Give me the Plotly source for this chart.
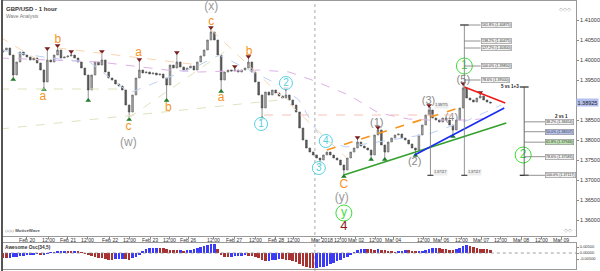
import plotly.graph_objects as go

# ---------------- data ----------------
# GBP/USD hourly chart, sampled every 2 hours; x unit = trading hours since Feb 20 00:00
first_bar_hour = -14
bar_step_hours = 2
first_open = 1.40200
close = [
    1.40250, 1.40300, 1.40125, 1.39625, 1.39950, 1.40200, 1.40125, 1.40075, 1.40000, 1.40050,
    1.39925, 1.39750, 1.39450, 1.40000, 1.39950, 1.40125, 1.40250, 1.40050, 1.40075, 1.40100,
    1.40125, 1.40050, 1.39950, 1.39800, 1.39625, 1.39250, 1.39625, 1.39950, 1.39875, 1.40000,
    1.39700, 1.39550, 1.39500, 1.39400, 1.39350, 1.39250, 1.38875, 1.38700, 1.39125, 1.39550,
    1.39750, 1.39675, 1.39700, 1.39650, 1.39675, 1.39625, 1.39650, 1.39550, 1.39375, 1.39875,
    1.39800, 1.39950, 1.39825, 1.39750, 1.39800, 1.39850, 1.39750, 1.39950, 1.40100, 1.40250,
    1.40500, 1.40700, 1.40500, 1.40125, 1.39500, 1.39700, 1.39750, 1.39725, 1.39750, 1.39700,
    1.39750, 1.39800, 1.39950, 1.39700, 1.39450, 1.39125, 1.38800, 1.39200, 1.39125, 1.39250,
    1.39175, 1.39100, 1.39050, 1.39125, 1.39000, 1.38875, 1.38700, 1.38300, 1.38000, 1.37800,
    1.37700, 1.37625, 1.37550, 1.37500, 1.37625, 1.37700, 1.37625, 1.37550, 1.37500, 1.37375,
    1.37250, 1.37550, 1.37700, 1.37800, 1.37950, 1.37850, 1.37800, 1.37750, 1.37625, 1.38125,
    1.38250, 1.37875, 1.37700, 1.37950, 1.38050, 1.38125, 1.38150, 1.38050, 1.38000, 1.37900,
    1.37800, 1.37750, 1.38125, 1.38375, 1.38625, 1.38750, 1.38550, 1.38500, 1.38450, 1.38550,
    1.38500, 1.38375, 1.38250, 1.38500, 1.38800, 1.39300, 1.39050, 1.39000, 1.38950, 1.39050,
    1.39100, 1.39000, 1.38950, 1.38925,
]
# swing highs / lows (bar index, extreme price)
hi_idx = [13, 16, 20, 29, 40, 51, 61, 68, 72, 83, 104, 110, 125, 135, 140]
hi_px = [1.40250, 1.40325, 1.40175, 1.40175, 1.39975, 1.40150, 1.40775, 1.39800, 1.40050,
         1.39250, 1.38025, 1.38275, 1.38825, 1.39375, 1.39150]
lo_idx = [3, 12, 25, 37, 48, 64, 76, 93, 100, 108, 112, 121, 132]
lo_px = [1.39550, 1.39300, 1.39025, 1.38550, 1.39025, 1.39250, 1.38575, 1.37425, 1.37125,
         1.37550, 1.37550, 1.37650, 1.38125]

# Awesome Oscillator (34,5), same 2-hour sampling
ao = [
    -0.0040, -0.0042, -0.0038, -0.0035, -0.0030, -0.0028, -0.0025, -0.0020, -0.0015, -0.0010,
    -0.0008, -0.0012, -0.0009, -0.0005, 0.0002, 0.0008, 0.0012, 0.0015, 0.0016, 0.0014,
    0.0013, 0.0015, 0.0012, 0.0006, -0.0002, -0.0012, -0.0022, -0.0030, -0.0038, -0.0045,
    -0.0050, -0.0055, -0.0056, -0.0052, -0.0050, -0.0048, -0.0052, -0.0055, -0.0045, -0.0030,
    -0.0010, 0.0015, 0.0030, 0.0038, 0.0042, 0.0044, 0.0040, 0.0038, 0.0032, 0.0028,
    0.0025, 0.0022, 0.0024, 0.0020, 0.0022, 0.0028, 0.0034, 0.0040, 0.0048, 0.0056,
    0.0064, 0.0072, 0.0076, 0.0035, -0.0010, -0.0030, -0.0035, -0.0030, -0.0028, -0.0025,
    -0.0022, -0.0020, -0.0024, -0.0026, -0.0030, -0.0040, -0.0060, -0.0070, -0.0068, -0.0060,
    -0.0055, -0.0050, -0.0052, -0.0055, -0.0060, -0.0068, -0.0078, -0.0090, -0.0105, -0.0115,
    -0.0122, -0.0125, -0.0124, -0.0120, -0.0115, -0.0105, -0.0095, -0.0080, -0.0068, -0.0055,
    -0.0045, -0.0030, -0.0012, 0.0008, 0.0022, 0.0030, 0.0033, 0.0032, 0.0030, 0.0028,
    0.0032, 0.0028, 0.0022, 0.0018, 0.0010, 0.0005, 0.0012, 0.0020, 0.0025, 0.0022,
    0.0015, 0.0010, 0.0014, 0.0020, 0.0028, 0.0035, 0.0040, 0.0042, 0.0038, 0.0033,
    0.0030, 0.0028, 0.0022, 0.0030, 0.0045, 0.0060, 0.0068, 0.0062, 0.0050, 0.0042,
    0.0036, 0.0032, 0.0030, 0.0028,
]

tick_hours = [0, 12.9, 24, 35.7, 48.5, 60.2, 72.5, 83.6, 94.7, 109.4, 121.6, 134, 146, 156.7,
              173, 184, 193, 204.7, 215, 232.7, 243, 255, 266.7, 278, 290, 301.8, 313.5]
tick_text = ["Feb 20", "12:00", "Feb 21", "12:00", "Feb 22", "12:00", "Feb 23", "12:00",
             "Feb 26", "12:00", "Feb 27", "12:00", "Feb 28", "12:00", "Mar 2018", "12:00",
             "Mar 02", "12:00", "Mar 04", "12:00", "Mar 06", "12:00", "Mar 07", "12:00",
             "Mar 08", "12:00", "Mar 09"]
price_ticks = [1.360, 1.365, 1.370, 1.375, 1.380, 1.385, 1.390, 1.395, 1.400, 1.405, 1.410]
ao_ticks = [0.005, 0.0, -0.005]
month_start_hour = 169

# wave labels: text, hour, price, kind
wave_text = ["b", "a", "c", "(w)", "a", "b", "c", "(x)", "a", "b", "1", "2", "3", "4",
             "C", "(y)", "y", "4", "(1)", "(2)", "(3)", "(4)", "(5)", "1", "2"]
wave_hour = [18.1, 9.4, 59.6, 59.6, 65.5, 83.0, 108.2, 108.2, 114.0, 130.4, 137.4, 152.0,
             171.3, 175.4, 186.0, 184.8, 186.0, 186.0, 205.3, 227.5, 235.7, 249.1, 256.1,
             256.7, 291.2]
wave_price = [1.4050, 1.39075, 1.38325, 1.37925, 1.40175, 1.3880, 1.4095, 1.41325, 1.3905,
              1.4020, 1.3840, 1.39425, 1.3730, 1.37975, 1.36875, 1.3655, 1.36175, 1.35825,
              1.38425, 1.3745, 1.38975, 1.3855, 1.3950, 1.3985, 1.37625]
wave_kind = ["abc", "abc", "abc", "wxy", "abc", "abc", "abc", "wxy", "abc", "abc", "minor",
             "minor", "minor", "minor", "abc", "wxy", "major", "cycle", "inter", "inter",
             "inter", "inter", "inter", "major", "major"]

# drawn trend lines: (hour0, price0, hour1, price1)
channel_upper = (176.0, 1.37750, 255.0, 1.38825)   # orange dashed
channel_lower = (186.0, 1.37125, 281.3, 1.38425)   # green
wave2_line = (227.5, 1.37625, 280.1, 1.38800)      # blue
wave5_line = (256.7, 1.39325, 280.7, 1.38925)      # red
faint_green = [(-15.8, 1.39275, 58.5, 1.39275), (-15.8, 1.38275, 153.8, 1.39025),
               (59.6, 1.38550, 115.8, 1.40200)]
faint_orange = [(-15.8, 1.40575, 9.4, 1.39925), (18.1, 1.40300, 101.2, 1.39875),
                (108.2, 1.40750, 187.1, 1.37575)]
faint_red = [(139.2, 1.38625, 253.2, 1.38625)]
# moving averages (dashed)
slow_ma_hour = [-15.8, 13.5, 42.7, 81.9, 101.2, 136.3, 153.8, 167.3, 188.9, 206.4, 224, 235.7, 260.8, 270.8]
slow_ma = [1.4005, 1.4000, 1.3995, 1.3975, 1.3970, 1.3975, 1.3970, 1.3950, 1.39125, 1.38675,
           1.38525, 1.3850, 1.3850, 1.3855]
fast_ma_hour = [-15.8, 13.5, 36.8, 60.2, 71.9, 101.2, 112.9, 124.6, 148, 159.6, 173.1, 187.1,
                206.4, 235.7, 259.1, 278.4]
fast_ma = [1.4025, 1.4005, 1.3995, 1.39175, 1.39375, 1.39875, 1.40125, 1.39875, 1.39375, 1.3900,
           1.3800, 1.37825, 1.3795, 1.3815, 1.3850, 1.38875]

# Fibonacci tools
fib_ext_hour = 256.7
fib_ext_levels = [1.40875, 1.40475, 1.40300, 1.39850, 1.39500]
fib_ext_text = ["161.8% (1.40875)", "138.2% (1.40475)", "127.2% (1.40300)",
                "100.0% (1.39850)", "78.6% (1.39500)"]
fib_ret_hour = 291.8
fib_ret_top = 1.39325
fib_ret_levels = [1.38454, 1.38207, 1.37946, 1.37583, 1.37117]
fib_ret_text = ["38.2% (1.38454)", "50.0% (1.38207)", "61.8% (1.37946)",
                "78.6% (1.37583)", "100.0% (1.37117)"]
fib_ret_fill = ["#f2f2f2", "#b8c4ee", "#bfe3b5", "#f2f2f2", "#f2f2f2"]
wave3_hour = 236.8
wave3_top = 1.38825
last_price = 1.38925

# ---------------- figure ----------------
n = len(close)
hours = [first_bar_hour + bar_step_hours * i for i in range(n)]
opens = [first_open] + close[:-1]
highs = [max(o, c) for o, c in zip(opens, close)]
lows = [min(o, c) for o, c in zip(opens, close)]
for i, p in zip(hi_idx, hi_px):
    highs[i] = max(highs[i], p)
for i, p in zip(lo_idx, lo_px):
    lows[i] = min(lows[i], p)

FONT = "Liberation Sans"
fig = go.Figure()

shapes = []


def seg(x0, y0, x1, y1, color, width=1, dash="solid", yref="y", xref="x"):
    shapes.append(dict(type="line", xref=xref, yref=yref, x0=x0, y0=y0, x1=x1, y1=y1,
                       line=dict(color=color, width=width, dash=dash), layer="above"))


for l in faint_green:
    seg(*l, color="#dfe3bf", width=1, dash="dash")
for l in faint_orange:
    seg(*l, color="#f8d6b0", width=1, dash="dash")
for l in faint_red:
    seg(*l, color="#f6c0b8", width=1, dash="dash")

fig.add_trace(go.Scatter(x=slow_ma_hour, y=slow_ma, mode="lines", line=dict(color="#dcb0e6", width=1, dash="dash"),
                         hoverinfo="skip", showlegend=False, xaxis="x", yaxis="y"))
fig.add_trace(go.Scatter(x=fast_ma_hour, y=fast_ma, mode="lines", line=dict(color="#bcd0f4", width=1, dash="dash"),
                         hoverinfo="skip", showlegend=False, xaxis="x", yaxis="y"))

fig.add_trace(go.Candlestick(
    x=hours, open=opens, high=highs, low=lows, close=close,
    increasing=dict(line=dict(color="#5a5a5a", width=0.6), fillcolor="#a8a8a8"),
    decreasing=dict(line=dict(color="#4a4a4a", width=0.6), fillcolor="#5a5a5a"),
    whiskerwidth=0, showlegend=False, xaxis="x", yaxis="y"))

# swing markers
fig.add_trace(go.Scatter(x=[hours[i] for i in hi_idx], y=[p + 0.0004 for p in hi_px], mode="markers",
                         marker=dict(symbol="triangle-down", size=5, color="#7a1f1f"),
                         showlegend=False, xaxis="x", yaxis="y"))
fig.add_trace(go.Scatter(x=[hours[i] for i in lo_idx], y=[p - 0.0004 for p in lo_px], mode="markers",
                         marker=dict(symbol="triangle-up", size=5, color="#1f7a2a"),
                         showlegend=False, xaxis="x", yaxis="y"))

# trend lines
seg(*channel_upper, color="#f7941d", width=1.6, dash="dash")
seg(*channel_lower, color="#33a02c", width=1.6)
seg(*wave2_line, color="#1a2cf0", width=1.6)
seg(*wave5_line, color="#f01a1a", width=1.6)

# fib extension tool
seg(fib_ext_hour, fib_ret_levels[-1], fib_ext_hour, fib_ext_levels[0], "#777777", 0.8)
seg(wave3_hour, wave3_top, wave3_hour, fib_ret_levels[-1], "#777777", 0.8)
for hx in (wave3_hour, fib_ext_hour):
    seg(hx - 1.8, fib_ret_levels[-1], hx + 1.8, fib_ret_levels[-1], "#444444", 1.2)
seg(fib_ext_hour - 2.5, fib_ext_levels[0], fib_ext_hour + 2.5, fib_ext_levels[0], "#444444", 1.4)
annotations = []
for lv, tx in zip(fib_ext_levels, fib_ext_text):
    seg(fib_ext_hour, lv, fib_ext_hour + 9.5, lv, "#777777", 0.8)
    annotations.append(dict(x=fib_ext_hour + 9.5, y=lv, xref="x", yref="y", text=tx, showarrow=False,
                            xanchor="left", font=dict(size=3.6, color="#333", family=FONT),
                            bgcolor="#f2f2f2", bordercolor="#888", borderwidth=0.6, borderpad=0.5))
annotations.append(dict(x=fib_ext_hour + 27, y=fib_ext_levels[-1] - 0.0016, xref="x", yref="y",
                        text="<b>5 vs 1+3</b>", showarrow=False, font=dict(size=4.5, color="#222", family=FONT)))
for hx in (wave3_hour, fib_ext_hour):
    annotations.append(dict(x=hx + 1.5, y=fib_ret_levels[-1] + 0.0006, xref="x", yref="y", text="1.37117",
                            showarrow=False, xanchor="left", font=dict(size=3.4, color="#444", family=FONT),
                            bgcolor="#eeeeee", borderpad=0.3))
annotations.append(dict(x=wave3_hour + 2, y=wave3_top + 0.0003, xref="x", yref="y", text="1.38775",
                        showarrow=False, xanchor="left", font=dict(size=3.4, color="#444", family=FONT),
                        bgcolor="#eeeeee", borderpad=0.3))

# fib retracement tool
seg(fib_ret_hour, fib_ret_top, fib_ret_hour, fib_ret_levels[-1], "#555555", 0.9)
for yy in (fib_ret_top, fib_ret_levels[-1]):
    seg(fib_ret_hour - 2.6, yy, fib_ret_hour + 2.6, yy, "#333333", 1.3)
for lv, tx, fc in zip(fib_ret_levels, fib_ret_text, fib_ret_fill):
    seg(fib_ret_hour, lv, fib_ret_hour + 12.5, lv, "#777777", 0.8)
    annotations.append(dict(x=fib_ret_hour + 12.5, y=lv, xref="x", yref="y", text=tx, showarrow=False,
                            xanchor="left", font=dict(size=3.6, color="#333", family=FONT),
                            bgcolor=fc, bordercolor="#888", borderwidth=0.6, borderpad=0.5))
annotations.append(dict(x=fib_ret_hour + 22, y=fib_ret_levels[0] + 0.0013, xref="x", yref="y",
                        text="<b>2 vs 1</b>", showarrow=False, font=dict(size=4.5, color="#222", family=FONT)))

# wave labels
styles = {
    "abc": dict(color="#f7941d", size=12, circle=None),
    "wxy": dict(color="#9a9a9a", size=12, circle=None),
    "inter": dict(color="#8a8a8a", size=11, circle=None),
    "minor": dict(color="#55d0e0", size=10, circle=13),
    "major": dict(color="#3fdc3a", size=12, circle=16),
    "cycle": dict(color="#8b1a1a", size=13, circle=None),
}
for kind, st in styles.items():
    xs = [h for h, k in zip(wave_hour, wave_kind) if k == kind]
    ys = [p for p, k in zip(wave_price, wave_kind) if k == kind]
    ts = [t for t, k in zip(wave_text, wave_kind) if k == kind]
    if st["circle"]:
        fig.add_trace(go.Scatter(x=xs, y=ys, mode="markers+text", text=ts, textposition="middle center",
                                 textfont=dict(color=st["color"], size=st["size"], family=FONT),
                                 marker=dict(symbol="circle", size=st["circle"], color="rgba(255,255,255,0.85)",
                                             line=dict(color=st["color"], width=1)),
                                 showlegend=False, xaxis="x", yaxis="y"))
    else:
        fig.add_trace(go.Scatter(x=xs, y=ys, mode="text", text=ts, textposition="middle center",
                                 textfont=dict(color=st["color"], size=st["size"], family=FONT),
                                 showlegend=False, xaxis="x", yaxis="y"))

# Awesome oscillator
ao_colors = ["#3b3bf5" if (i > 0 and v > ao[i - 1]) else "#a83232" for i, v in enumerate(ao)]
fig.add_trace(go.Bar(x=hours, y=ao, marker=dict(color=ao_colors, line=dict(width=0)), width=1.5,
                     showlegend=False, xaxis="x2", yaxis="y2"))
seg(-20, 0, 330, 0, "#888888", 0.8, "dot", yref="y2", xref="x2")

# month divider
shapes.append(dict(type="line", xref="x", yref="paper", x0=month_start_hour, x1=month_start_hour, y0=0, y1=1,
                   line=dict(color="#aaaaaa", width=1, dash="dot"), layer="below"))
# left border
shapes.append(dict(type="line", xref="paper", yref="paper", x0=0, x1=0, y0=0, y1=1,
                   line=dict(color="#555555", width=2)))

# time-axis labels, placed in the band between the two panels
for th, tt in zip(tick_hours, tick_text):
    annotations.append(dict(x=th, y=(271 - 239.5) / 271, xref="x", yref="paper", text=tt, showarrow=False,
                            xanchor="center", yanchor="middle", borderpad=0,
                            font=dict(size=5.2, color="#333", family=FONT)))

# texts
annotations += [
    dict(x=0.004, y=0.985, xref="paper", yref="paper", text="<b>GBP/USD - 1 hour</b>", showarrow=False,
         xanchor="left", font=dict(size=6, color="#333", family=FONT)),
    dict(x=0.004, y=0.958, xref="paper", yref="paper", text="Wave Analysis", showarrow=False,
         xanchor="left", font=dict(size=5, color="#777", family=FONT)),
    dict(x=0.004, y=(271 - 230.2) / 271, xref="paper", yref="paper", text="◇◇◇ <b>MotiveWave</b>",
         showarrow=False, xanchor="left", yanchor="middle", borderpad=0,
         font=dict(size=4.3, color="#555", family=FONT)),
    dict(x=0.004, y=(271 - 247.8) / 271, xref="paper", yref="paper", text="<b>Awesome Osc(34,5)</b>",
         showarrow=False, xanchor="left", yanchor="middle", borderpad=0,
         font=dict(size=4.8, color="#333", family=FONT)),
    dict(x=0.995, y=0.985, xref="paper", yref="paper", text="◇◇◇", showarrow=False,
         xanchor="right", font=dict(size=5, color="#999", family=FONT)),
    dict(x=0.995, y=(271 - 230.2) / 271, xref="paper", yref="paper", text="◇◇", showarrow=False,
         xanchor="right", yanchor="middle", borderpad=0, font=dict(size=4.5, color="#999", family=FONT)),
    dict(x=1.0, y=last_price, xref="paper", yref="y", text="1.38925", showarrow=False, xanchor="left",
         font=dict(size=5.5, color="#222", family=FONT), bgcolor="#b4c0f0", borderpad=0.5),
]

x_range = [-14.6, 322.2]
fig.update_layout(
    width=600, height=271, margin=dict(l=2, r=22, t=0, b=0),
    paper_bgcolor="white", plot_bgcolor="white", showlegend=False, bargap=0,
    shapes=shapes, annotations=annotations,
    xaxis=dict(domain=[0, 1], range=x_range, anchor="y", tickvals=tick_hours, showticklabels=False,
               ticks="outside", ticklen=2, tickcolor="#888", showline=True, mirror=True,
               linecolor="#999", linewidth=1,
               showgrid=False, zeroline=False, rangeslider=dict(visible=False), fixedrange=True),
    yaxis=dict(domain=[35 / 271, 270 / 271], range=[1.3560, 1.41475], side="right", anchor="x",
               tickvals=price_ticks,
               ticktext=["" if abs(v - last_price) < 0.002 else "%.5f" % v for v in price_ticks],
               tickfont=dict(size=5.5, color="#333", family=FONT), ticks="outside", ticklen=2,
               tickcolor="#888", showline=True, linecolor="#999", showgrid=False, zeroline=False),
    xaxis2=dict(domain=[0, 1], range=x_range, anchor="y2", matches="x", showticklabels=False,
                showline=True, mirror=True, linecolor="#999", showgrid=False, zeroline=False, ticks=""),
    yaxis2=dict(domain=[2 / 271, 28 / 271], range=[-0.01333, 0.00833], side="right", anchor="x2",
                tickvals=ao_ticks, ticktext=["%.5f" % v for v in ao_ticks],
                tickfont=dict(size=4, color="#333", family=FONT), ticks="outside", ticklen=2,
                tickcolor="#888", showline=True, linecolor="#999", showgrid=False, zeroline=False),
)

fig.write_html("out.html")
